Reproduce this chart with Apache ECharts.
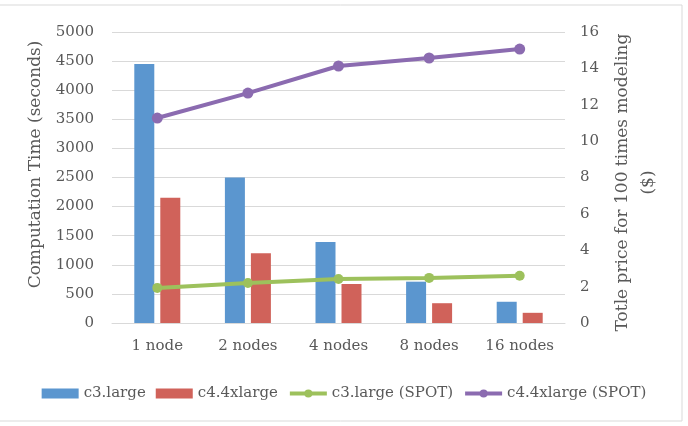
<!DOCTYPE html>
<html>
<head>
<meta charset="utf-8">
<script src="https://cdn.jsdelivr.net/npm/echarts@6/dist/echarts.min.js"></script>
<style>
  html, body { margin: 0; padding: 0; background: #fff; }
  #chart { width: 688px; height: 426px; }
</style>
</head>
<body>
<div id="chart"></div>
<script>
// 数据
const categories = ['1 node', '2 nodes', '4 nodes', '8 nodes', '16 nodes']
const c3Time = [4450, 2500, 1390, 710, 365]
const c4Time = [2150, 1200, 670, 340, 175]
const c3Spot = [1.93, 2.2, 2.42, 2.48, 2.6]
const c4Spot = [11.27, 12.64, 14.13, 14.57, 15.06]

const font = '"DejaVu Serif", "Liberation Serif", serif'
const labelColor = '#595959'

const chart = echarts.init(document.getElementById('chart'))

chart.setOption({
  animation: false,
  textStyle: { fontFamily: font },
  // 外框
  graphic: [{
    type: 'rect',
    silent: true,
    shape: { x: -1, y: 5, width: 683, height: 416 },
    style: { fill: 'none', stroke: '#d9d9d9', lineWidth: 1 }
  }],
  grid: { left: 112, right: 123, top: 32, bottom: 103 },
  legend: {
    top: 381,
    left: 'center',
    itemGap: 10,
    itemWidth: 37,
    itemHeight: 10,
    textStyle: { fontFamily: font, fontSize: 15, color: labelColor },
    data: [
      { name: 'c3.large', icon: 'rect' },
      { name: 'c4.4xlarge', icon: 'rect' },
      { name: 'c3.large (SPOT)', lineStyle: { width: 4 } },
      { name: 'c4.4xlarge (SPOT)', lineStyle: { width: 4 } }
    ]
  },
  xAxis: {
    type: 'category',
    data: categories,
    axisTick: { show: false },
    axisLine: { lineStyle: { color: '#d9d9d9' } },
    axisLabel: { fontFamily: font, fontSize: 15, color: labelColor, margin: 16 }
  },
  yAxis: [
    {
      type: 'value',
      min: 0,
      max: 5000,
      interval: 500,
      name: 'Computation Time (seconds)',
      nameLocation: 'middle',
      nameGap: 68,
      nameRotate: 90,
      nameTextStyle: { fontFamily: font, fontSize: 17, color: labelColor, padding: [0, 0, 0, 26] },
      axisLine: { show: false },
      axisTick: { show: false },
      axisLabel: {
        fontFamily: font, fontSize: 15, color: labelColor, margin: 18,
        formatter: (v) => String(v)
      },
      splitLine: { lineStyle: { color: '#d9d9d9' } }
    },
    {
      type: 'value',
      min: 0,
      max: 16,
      interval: 2,
      name: 'Totle price for 100 times modeling\n($)',
      nameLocation: 'middle',
      nameGap: 44,
      nameRotate: 90,
      nameTextStyle: { fontFamily: font, fontSize: 17, color: labelColor, lineHeight: 26, padding: [0, 10, 0, 0] },
      axisLine: { show: false },
      axisTick: { show: false },
      axisLabel: { fontFamily: font, fontSize: 15, color: labelColor, margin: 15 },
      splitLine: { show: false }
    }
  ],
  series: [
    {
      name: 'c3.large',
      type: 'bar',
      data: c3Time,
      barWidth: 20,
      barGap: '30%',
      itemStyle: { color: '#5B96CF' }
    },
    {
      name: 'c4.4xlarge',
      type: 'bar',
      data: c4Time,
      barWidth: 20,
      itemStyle: { color: '#D0625A' }
    },
    {
      name: 'c3.large (SPOT)',
      type: 'line',
      yAxisIndex: 1,
      data: c3Spot,
      symbol: 'circle',
      symbolSize: 10,
      lineStyle: { width: 4, color: '#9DC15C' },
      itemStyle: { color: '#9DC15C' }
    },
    {
      name: 'c4.4xlarge (SPOT)',
      type: 'line',
      yAxisIndex: 1,
      data: c4Spot,
      symbol: 'circle',
      symbolSize: 11,
      lineStyle: { width: 4, color: '#8B6BB0' },
      itemStyle: { color: '#8B6BB0' }
    }
  ]
})
</script>
</body>
</html>
